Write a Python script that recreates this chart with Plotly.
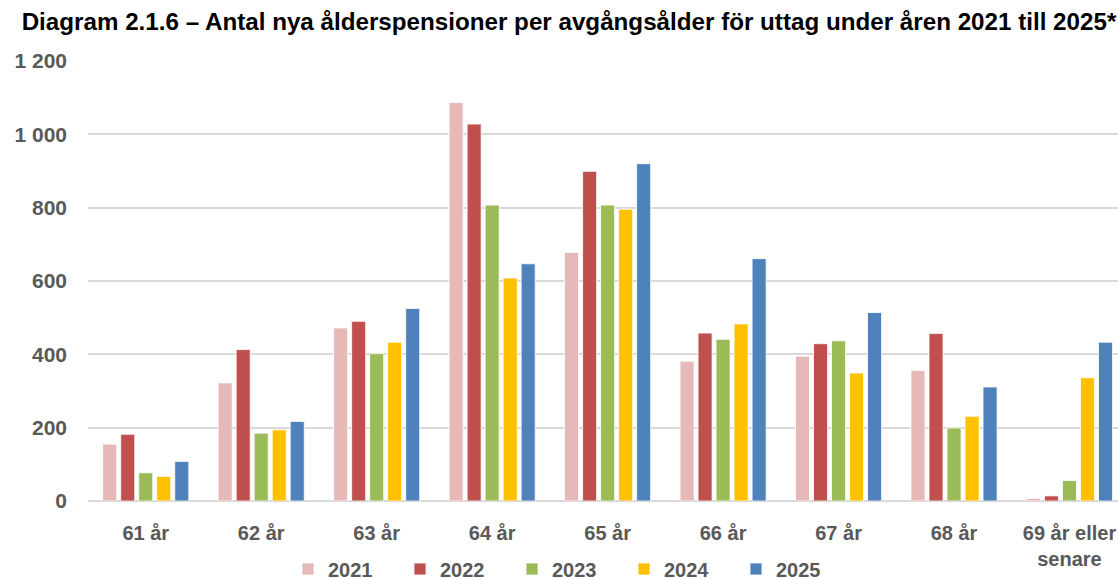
import plotly.graph_objects as go

categories = ["61 år", "62 år", "63 år", "64 år", "65 år", "66 år", "67 år", "68 år", "69 år eller<br>senare"]
years = ["2021", "2022", "2023", "2024", "2025"]
v2021 = [155, 322, 472, 1087, 678, 381, 395, 356, 7]
v2022 = [182, 413, 490, 1028, 899, 458, 429, 457, 14]
v2023 = [77, 185, 402, 807, 807, 441, 437, 199, 56]
v2024 = [67, 194, 433, 608, 796, 483, 349, 231, 336]
v2025 = [108, 217, 525, 647, 920, 661, 514, 311, 433]
series = [v2021, v2022, v2023, v2024, v2025]
colors = ["#E6B9B8", "#C0504D", "#9BBB59", "#FFC000", "#4F81BD"]
y_ticks = [0, 200, 400, 600, 800, 1000, 1200]

title = "Diagram 2.1.6 – Antal nya ålderspensioner per avgångsålder för uttag under åren 2021 till 2025*"

fig = go.Figure()
for name, vals, col in zip(years, series, colors):
    fig.add_trace(go.Bar(
        x=categories, y=vals, name=name,
        marker=dict(color=col, line=dict(color="white", width=0.8)),
    ))

grey = "#595959"
fam = "Liberation Sans, Arial, sans-serif"
fig.update_layout(
    width=1118, height=580,
    paper_bgcolor="white", plot_bgcolor="white",
    margin=dict(l=88, r=0, t=61, b=79, autoexpand=False),
    barmode="group", bargap=0.22, bargroupgap=0.22,
    separators=", ",
    title=dict(text="<b>" + title + "</b>", x=569 / 1118, xanchor="center",
               xref="container", y=1 - 22 / 580, yanchor="middle", yref="container",
               font=dict(family=fam, size=24.2, color="black")),
    font=dict(family=fam, color=grey),
    showlegend=True,
    legend=dict(orientation="h", xref="container", yref="container",
                x=288 / 1118, xanchor="left", y=1 - 569 / 580, yanchor="middle",
                entrywidth=67, entrywidthmode="pixels",
                font=dict(size=20, color=grey, family=fam, weight="bold"),
                bgcolor="rgba(0,0,0,0)"),
    xaxis=dict(range=[-0.5, 8.42], showgrid=False, showline=False, ticks="",
               tickfont=dict(size=20, color=grey, weight="bold"),
               ticklabelstandoff=18, automargin=False),
    yaxis=dict(range=[0, 1200], tickvals=y_ticks, tickformat=",d",
               showgrid=True, gridcolor="#d9d9d9", gridwidth=1.5,
               zeroline=True, zerolinecolor="#d9d9d9", zerolinewidth=1.5,
               showline=False, ticks="",
               tickfont=dict(size=21, color=grey, weight="bold"),
               ticklabelstandoff=20, automargin=False),
)

fig.write_html("out.html", config={"displayModeBar": False},
               post_script="document.body.style.margin='0';document.body.style.overflow='hidden';")
